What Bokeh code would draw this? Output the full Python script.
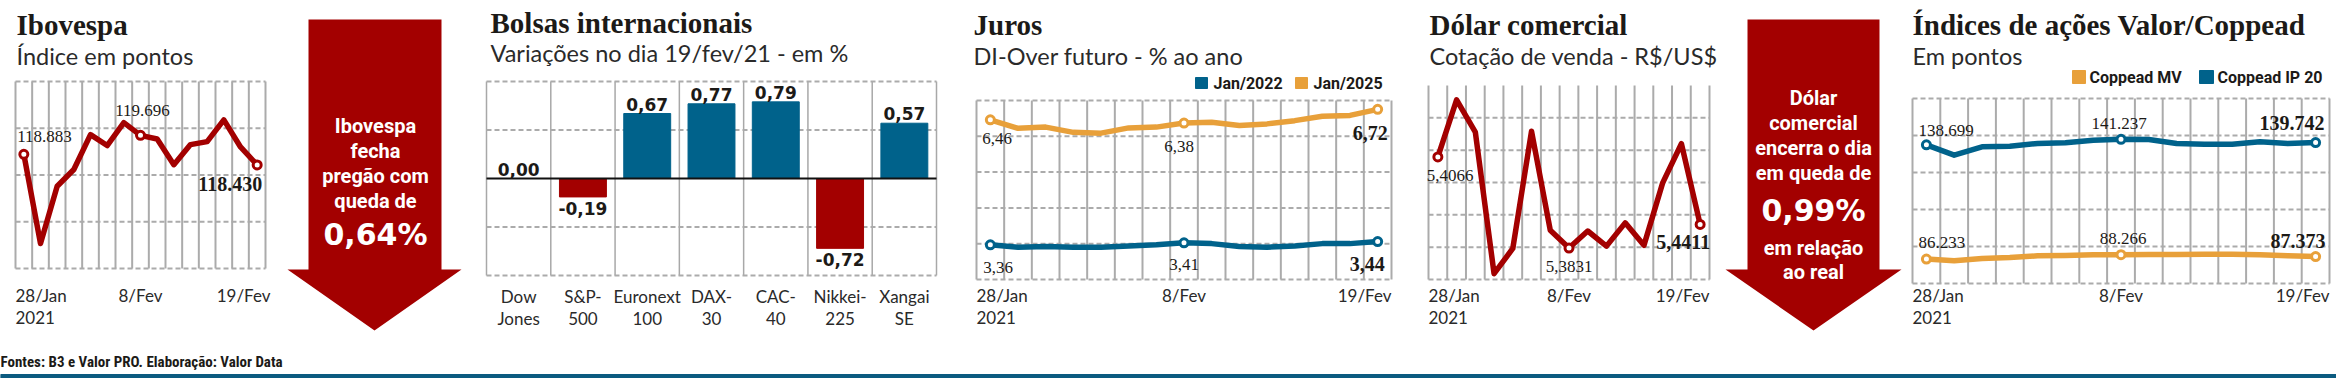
from bokeh.plotting import figure
from bokeh.models import Range1d, Label
from bokeh.embed import file_html
from bokeh.resources import INLINE
from bokeh.core.properties import value

# ---------------- data ----------------
day_index = list(range(15))
tick_index = [0, 7, 14]
tick_labels = ["28/Jan", "8/Fev", "19/Fev"]
year_label = "2021"
marked_index = [0, 7, 14]

ibovespa = [118883, 115067, 117518, 118234, 119725, 119261, 120240, 119696,
            119540, 118440, 119300, 119429, 120356, 119199, 118430]
ibov_ticks = [114000, 116000, 118000, 120000, 122000]

bolsas_names = ["Dow\nJones", "S&P-\n500", "Euronext\n100", "DAX-\n30",
                "CAC-\n40", "Nikkei-\n225", "Xangai\nSE"]
bolsas_var = [0.00, -0.19, 0.67, 0.77, 0.79, -0.72, 0.57]
bolsas_ticks = [-1.0, -0.5, 0.5, 1.0]

juros_names = ["Jan/2022", "Jan/2025"]
di_jan2022 = [3.36, 3.30, 3.32, 3.30, 3.30, 3.33, 3.36, 3.41, 3.39, 3.32,
              3.30, 3.33, 3.39, 3.39, 3.44]
di_jan2025 = [6.46, 6.25, 6.28, 6.15, 6.13, 6.26, 6.28, 6.38, 6.40, 6.32,
              6.36, 6.44, 6.55, 6.57, 6.72]
juros_ticks = [2.5, 3.388, 4.276, 5.164, 6.052, 6.94]

dolar = [5.4066, 5.4213, 5.4130, 5.3765, 5.3830, 5.4132, 5.3877, 5.3831,
         5.3875, 5.3836, 5.3896, 5.3838, 5.3999, 5.4100, 5.3892]
dolar_marks = ["5,4066", "5,3831", "5,4411"]
dolar_ticks = [5.375, 5.38333, 5.39167, 5.40, 5.40833, 5.41667]
dolar_top = 5.425

coppead_names = ["Coppead MV", "Coppead IP 20"]
coppead_mv = [86233, 85414, 86486, 86946, 87711, 87865, 88171, 88266,
              88324, 88324, 88477, 88477, 88171, 87711, 87373]
coppead_ip20 = [138699, 133963, 137792, 138098, 139323, 139629, 140855, 141237,
                141161, 139323, 139017, 139017, 140089, 139323, 139742]
coppead_ticks = [75000, 92000, 109000, 126000, 143000, 160000]

# ---------------- style ----------------
RED = "#A30000"
BLUE = "#00628B"
ORANGE = "#E8A03A"
GRID = "#ABABAB"
INK = "#1C1A17"
SOFT = "#2A2A2A"
FOOT = "#0B5B80"

SERIF = "Liberation Serif"
SANS = "Lato"
BOLDSANS = "Roboto"
DSANS = "DejaVu Sans"
NARROW = "'Liberation Sans Narrow', 'Roboto Condensed', Roboto"

# canvas in page pixels
X0, X1, TOP, BOT = 0, 2336, 0, 378

p = figure(width=X1 - X0, height=BOT - TOP, x_range=Range1d(X0, X1),
           y_range=Range1d(BOT, TOP), min_border=0, toolbar_location=None,
           x_axis_location=None, y_axis_location=None, output_backend="svg",
           title=None)
p.outline_line_color = None
p.grid.visible = False


def add_ranges(name, c0, c1, d0, d1, ct, cb, dtop, dbot):
    sx = (d1 - d0) / (c1 - c0)
    p.extra_x_ranges[name + "_x"] = Range1d(d0 - (c0 - X0) * sx, d1 + (X1 - c1) * sx)
    sy = (dtop - dbot) / (cb - ct)
    p.extra_y_ranges[name + "_y"] = Range1d(dbot - (BOT - cb) * sy, dtop + (ct - TOP) * sy)
    return dict(x_range_name=name + "_x", y_range_name=name + "_y")


def put(x, y, text, font, size, bold=False, color=INK, align="left",
        baseline="alphabetic"):
    p.add_layout(Label(x=x, y=y, text=text, text_font=font,
                       text_font_size=f"{size}px",
                       text_font_style="bold" if bold else "normal",
                       text_color=color, text_align=align, text_baseline=baseline))


def titles(x, title, subtitle, ty=24, sy=55):
    put(x, ty, title, SERIF, 29, bold=True)
    put(x, sy, subtitle, SANS, 23.5, color=SOFT)


def grid(rk, xs, ylo, yhi, ys, xlo, xhi, vcolor=GRID, vwidth=2):
    p.segment(x0=xs, y0=[ylo] * len(xs), x1=xs, y1=[yhi] * len(xs),
              line_color=vcolor, line_width=vwidth, **rk)
    p.segment(x0=[xlo] * len(ys), y0=ys, x1=[xhi] * len(ys), y1=ys,
              line_color=GRID, line_width=2, line_dash="5 3", **rk)


def line_series(rk, series, color):
    p.line(day_index, series, line_color=color, line_width=5.5,
           line_join="round", line_cap="round", **rk)
    p.scatter([day_index[i] for i in marked_index], [series[i] for i in marked_index],
              size=8, fill_color="white", line_color=color, line_width=3, **rk)


def mark_labels(rk, series, texts, offsets, aligns):
    n = len(marked_index)
    for k, i in enumerate(marked_index):
        last = k == n - 1
        p.text(x=[day_index[i]], y=[series[i]], text=[texts[k]],
               x_offset=offsets[k][0], y_offset=offsets[k][1],
               text_align=aligns[k], text_baseline="middle",
               text_font=value(SERIF),
               text_font_size="20px" if last else "17px",
               text_font_style="bold" if last else "normal", text_color=INK, **rk)


def x_ticks(rk, right_pad=0.0):
    xn = rk["x_range_name"]
    xs = [day_index[tick_index[0]] - 0.5, day_index[tick_index[1]],
          day_index[tick_index[2]] + 0.5 + right_pad]
    for x, t, a in zip(xs, tick_labels, ["left", "center", "right"]):
        p.text(x=[x], y=[295], text=[t], x_range_name=xn, text_align=a,
               text_baseline="middle", text_font=value(SANS),
               text_font_size="17px", text_color=SOFT)
    p.text(x=[xs[0]], y=[317], text=[year_label], x_range_name=xn,
           text_align="left", text_baseline="middle", text_font=value(SANS),
           text_font_size="17px", text_color=SOFT)


def br_int(v):
    return f"{v:,}".replace(",", ".")


def br_dec(v):
    return f"{v:.2f}".replace(".", ",")


vlines = [i - 0.5 for i in range(16)]

# ---------------- Ibovespa ----------------
rk1 = add_ranges("ibov", 15, 265, -0.5, 14.5, 81, 268, ibov_ticks[-1], ibov_ticks[0])
titles(16, "Ibovespa", "Índice em pontos")
grid(rk1, vlines, ibov_ticks[0], ibov_ticks[-1], ibov_ticks, -0.5, 14.5)
line_series(rk1, ibovespa, RED)
mark_labels(rk1, ibovespa, [br_int(ibovespa[i]) for i in marked_index],
            [(-6.7, -18), (2, -25), (5, 19)], ["left", "center", "right"])
x_ticks(rk1, right_pad=0.3)

# ---------------- arrow 1 (decoration) ----------------
p.patch([308, 441, 441, 461, 374, 287, 308], [19, 19, 269, 269, 330, 269, 269],
        color=RED, line_width=0)
for yy, t in zip([125, 150, 175, 200], ["Ibovespa", "fecha", "pregão com", "queda de"]):
    put(375, yy, t, BOLDSANS, 20, bold=True, color="white", align="center",
        baseline="middle")
put(375, 234, "0,64%", DSANS, 30, bold=True, color="white", align="center",
    baseline="middle")

# ---------------- Bolsas internacionais ----------------
rk2 = add_ranges("bolsas", 486, 936, -0.5, 6.5, 81, 275, 1.0, -1.0)
titles(490, "Bolsas internacionais", "Variações no dia 19/fev/21 - em %", ty=22, sy=52)
cats = list(range(len(bolsas_var)))
grid(rk2, [c - 0.5 for c in range(len(cats) + 1)], -1.0, 1.0, bolsas_ticks, -0.5, 6.5,
     vcolor="#A8A8A8", vwidth=1.5)
p.vbar(x=cats, top=bolsas_var, bottom=0, width=0.73,
       color=[RED if v < 0 else BLUE for v in bolsas_var], **rk2)
p.segment(x0=[-0.5], y0=[0], x1=[6.5], y1=[0], line_color="#111111", line_width=2, **rk2)
pos = [i for i, v in enumerate(bolsas_var) if v >= 0]
neg = [i for i, v in enumerate(bolsas_var) if v < 0]
p.text(x=pos, y=[bolsas_var[i] for i in pos], text=[br_dec(bolsas_var[i]) for i in pos],
       y_offset=-3, text_align="center", text_baseline="bottom",
       text_font=value(DSANS), text_font_size="17px", text_font_style="bold",
       text_color=INK, **rk2)
p.text(x=neg, y=[bolsas_var[i] for i in neg], text=[br_dec(bolsas_var[i]) for i in neg],
       y_offset=5, text_align="center", text_baseline="top",
       text_font=value(DSANS), text_font_size="17px", text_font_style="bold",
       text_color=INK, **rk2)
for line_no, yy in enumerate([296, 318]):
    p.text(x=cats, y=[yy] * len(cats), text=[n.split("\n")[line_no] for n in bolsas_names],
           x_range_name=rk2["x_range_name"], text_align="center", text_baseline="middle",
           text_font=value(SANS), text_font_size="17px", text_color=SOFT)

# ---------------- Juros ----------------
rk3 = add_ranges("juros", 976, 1391, -0.5, 14.5, 100, 279, juros_ticks[-1], juros_ticks[0])
titles(973, "Juros", "DI-Over futuro - % ao ano")
grid(rk3, vlines, juros_ticks[0], juros_ticks[-1], juros_ticks, -0.5, 14.5)
for (l, r), col, name in zip([(1195, 1207), (1295, 1307)], [BLUE, ORANGE], juros_names):
    p.quad(left=[l], right=[r], top=[77], bottom=[88], color=col)
    put(r + 6, 83, name, BOLDSANS, 16, bold=True, baseline="middle")
line_series(rk3, di_jan2025, ORANGE)
line_series(rk3, di_jan2022, BLUE)
mark_labels(rk3, di_jan2025, [br_dec(di_jan2025[i]) for i in marked_index],
            [(-8, 19), (-5, 23), (10, 24)], ["left", "center", "right"])
mark_labels(rk3, di_jan2022, [br_dec(di_jan2022[i]) for i in marked_index],
            [(-7, 23), (0, 22), (7, 22)], ["left", "center", "right"])
x_ticks(rk3)

# ---------------- Dólar ----------------
rk4 = add_ranges("dolar", 1428, 1709, -0.5, 14.5, 85, 279, dolar_top, dolar_ticks[0])
titles(1429, "Dólar comercial", "Cotação de venda - R$/US$")
grid(rk4, vlines, dolar_ticks[0], dolar_top, dolar_ticks, -0.5, 14.5)
line_series(rk4, dolar, RED)
mark_labels(rk4, dolar, dolar_marks, [(-11, 19), (0, 18), (10, 18)],
            ["left", "center", "right"])
x_ticks(rk4)

# ---------------- arrow 2 (decoration) ----------------
p.patch([1747, 1879, 1879, 1901, 1813, 1725, 1747], [19, 19, 269, 269, 330, 269, 269],
        color=RED, line_width=0)
for yy, t in zip([97, 122, 147, 172, 247, 271],
                 ["Dólar", "comercial", "encerra o dia", "em queda de", "em relação", "ao real"]):
    put(1813, yy, t, BOLDSANS, 20, bold=True, color="white", align="center",
        baseline="middle")
put(1813, 210, "0,99%", DSANS, 30, bold=True, color="white", align="center",
    baseline="middle")

# ---------------- Coppead ----------------
rk5 = add_ranges("coppead", 1912, 2329, -0.5, 14.5, 98, 283, coppead_ticks[-1], coppead_ticks[0])
titles(1912, "Índices de ações Valor/Coppead", "Em pontos")
grid(rk5, vlines, coppead_ticks[0], coppead_ticks[-1], coppead_ticks, -0.5, 14.5)
for (l, r), col, name in zip([(2072, 2085), (2199, 2213)], [ORANGE, BLUE], coppead_names):
    p.quad(left=[l], right=[r], top=[70], bottom=[83], color=col)
    put(r + 4, 77, name, BOLDSANS, 16, bold=True, baseline="middle")
line_series(rk5, coppead_ip20, BLUE)
line_series(rk5, coppead_mv, ORANGE)
mark_labels(rk5, coppead_ip20, [br_int(coppead_ip20[i]) for i in marked_index],
            [(-8, -14), (-2, -16), (9, -20)], ["left", "center", "right"])
mark_labels(rk5, coppead_mv, [br_int(coppead_mv[i]) for i in marked_index],
            [(-8, -17), (2, -16), (10, -16)], ["left", "center", "right"])
x_ticks(rk5)

# ---------------- footer ----------------
put(0, 361, "Fontes: B3 e Valor PRO. Elaboração: Valor Data", NARROW, 15,
    bold=True, color=INK, baseline="middle")
p.quad(left=[X0], right=[X1], top=[374], bottom=[378], color=FOOT)

open("out.html", "w").write(file_html(p, INLINE))
